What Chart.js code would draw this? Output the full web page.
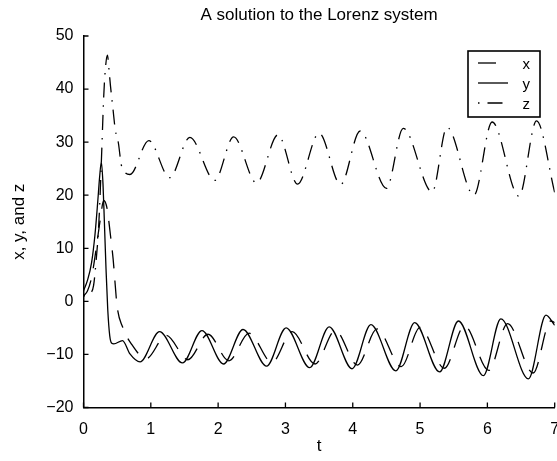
<!DOCTYPE html>
<html>
<head>
<meta charset="utf-8">
<script src="https://cdn.jsdelivr.net/npm/chart.js@4.4.1/dist/chart.umd.min.js"></script>
<style>
  html, body { margin: 0; padding: 0; background: #fff; }
  #wrap { width: 557px; height: 461px; }
</style>
</head>
<body>
<div id="wrap"><canvas id="lorenz" width="557" height="461"></canvas></div>
<script>
// values (turning points + the start transient)
const tX = [0, 0.06, 0.12, 0.16, 0.2, 0.25, 0.3, 0.35, 0.4, 0.44, 0.5, 0.58, 0.71, 0.93,
  1.23, 1.55, 1.85, 2.16, 2.46, 2.8, 3.1, 3.44, 3.74, 4.07, 4.36, 4.72, 5.0, 5.36, 5.66,
  6.02, 6.3, 6.68, 6.94, 7.0];
const xVals = [1.0, 2.0, 4.5, 7.5, 11, 15.5, 19, 17.5, 12.5, 8, -1, -4.8, -8, -10.8,
  -6.4, -11.0, -6.2, -11.2, -6.0, -11.5, -5.7, -11.8, -5.5, -12.0, -5.2, -12.3, -4.9, -12.6, -4.6,
  -13.0, -4.2, -13.5, -3.7, -4.0];

const tY = [0, 0.06, 0.12, 0.17, 0.21, 0.24, 0.265, 0.29, 0.31, 0.335, 0.36, 0.39, 0.42, 0.45,
  0.58, 0.69, 0.84, 1.13, 1.47, 1.76, 2.08, 2.37, 2.72, 3.01, 3.36, 3.65, 3.99, 4.27, 4.64,
  4.92, 5.29, 5.57, 5.94, 6.2, 6.61, 6.87, 7.0];
const yVals = [2.0, 4.0, 7.3, 12.5, 18.5, 23.5, 26.3, 22, 15, 6, -1.5, -6.5, -7.9, -8.0,
  -7.4, -9.9, -11.4, -5.7, -11.6, -5.5, -11.8, -5.3, -12.2, -5.0, -12.5, -4.8, -12.7, -4.4, -13.1,
  -4.0, -13.3, -3.7, -14.0, -3.3, -14.6, -2.6, -4.5];

const tZ = [0, 0.1, 0.15, 0.19, 0.22, 0.24, 0.27, 0.3, 0.32, 0.355, 0.38, 0.4, 0.44, 0.47,
  0.52, 0.56, 0.61, 0.69, 0.97, 1.28, 1.58, 1.95, 2.23, 2.57, 2.89, 3.18, 3.5, 3.82, 4.11,
  4.5, 4.75, 5.18, 5.4, 5.8, 6.07, 6.47, 6.73, 7.0];
const zVals = [1.0, 1.5, 3, 8, 13, 18, 28, 38.5, 43, 46.4, 43.5, 40.7, 36, 32.5,
  29.7, 25.8, 24.4, 23.9, 30.3, 23.3, 30.9, 22.8, 31.0, 22.3, 31.4, 22.1, 31.7, 22.0, 32.1,
  21.3, 32.6, 20.6, 32.8, 20.0, 33.8, 19.8, 34.0, 20.5];

const seriesNames = ['x', 'y', 'z'];

const toPoints = (ts, vs) => ts.map((t, i) => ({ x: t, y: vs[i] }));
const FONT = '"Liberation Sans", Arial, Helvetica, sans-serif';

// matlab style ticks pointing into the plot
const inwardTicks = {
  id: 'inwardTicks',
  afterDraw(chart) {
    const { ctx, chartArea, scales } = chart;
    ctx.save();
    ctx.strokeStyle = '#000';
    ctx.lineWidth = 1.3;
    ctx.beginPath();
    scales.x.ticks.forEach(tk => {
      const px = scales.x.getPixelForValue(tk.value);
      ctx.moveTo(px, chartArea.bottom);
      ctx.lineTo(px, chartArea.bottom - 5);
    });
    scales.y.ticks.forEach(tk => {
      const py = scales.y.getPixelForValue(tk.value);
      ctx.moveTo(chartArea.left, py);
      ctx.lineTo(chartArea.left + 5, py);
    });
    ctx.stroke();
    ctx.restore();
  }
};

// boxed legend in the top right corner
const boxLegend = {
  id: 'boxLegend',
  afterDraw(chart) {
    const { ctx } = chart;
    const left = 468, top = 51, w = 72, h = 66;
    ctx.save();
    ctx.fillStyle = '#fff';
    ctx.fillRect(left, top, w, h);
    ctx.strokeStyle = '#000';
    ctx.lineWidth = 1.6;
    ctx.strokeRect(left, top, w, h);
    ctx.font = '15px ' + FONT;
    ctx.textAlign = 'right';
    ctx.textBaseline = 'middle';
    ctx.fillStyle = '#000';
    chart.data.datasets.forEach((ds, i) => {
      const y = top + 12 + i * 20;
      ctx.setLineDash(ds.borderDash || []);
      ctx.lineWidth = ds.borderWidth;
      ctx.beginPath();
      ctx.moveTo(left + 10, y);
      ctx.lineTo(left + 40, y);
      ctx.stroke();
      ctx.setLineDash([]);
      ctx.fillText(ds.label, left + w - 10, y + 2);
    });
    ctx.restore();
  }
};

const lineStyle = {
  borderColor: '#000',
  borderWidth: 1.3,
  borderCapStyle: 'butt',
  pointRadius: 0,
  fill: false,
  cubicInterpolationMode: 'monotone'
};

new Chart(document.getElementById('lorenz'), {
  type: 'line',
  data: {
    datasets: [
      { ...lineStyle, label: seriesNames[0], data: toPoints(tX, xVals), borderDash: [18, 12] },
      { ...lineStyle, label: seriesNames[1], data: toPoints(tY, yVals), borderDash: [] },
      { ...lineStyle, label: seriesNames[2], data: toPoints(tZ, zVals), borderDash: [1.5, 8, 15, 8] }
    ]
  },
  options: {
    responsive: false,
    animation: false,
    layout: { padding: { left: 0, right: 2.3, top: 0, bottom: 0 } },
    plugins: {
      legend: { display: false },
      tooltip: { enabled: false },
      title: {
        display: true,
        fullSize: false,
        text: 'A solution to the Lorenz system',
        color: '#000',
        font: { family: FONT, size: 17, weight: 'normal' },
        padding: { top: 5, bottom: 10.6 }
      }
    },
    scales: {
      x: {
        type: 'linear',
        min: 0,
        max: 7,
        ticks: { stepSize: 1, color: '#000', font: { family: FONT, size: 16 }, padding: 12, maxRotation: 0 },
        grid: { display: false, drawTicks: false },
        border: { display: true, color: '#000', width: 1.5 },
        title: { display: true, text: 't', color: '#000', font: { family: FONT, size: 17 }, padding: { top: 4, bottom: 4 } },
        afterFit(scale) {
          scale.height = 53.5;
          scale.paddingLeft = 0;
          scale.paddingRight = 0;
        }
      },
      y: {
        min: -20,
        max: 50,
        ticks: {
          stepSize: 10,
          color: '#000',
          font: { family: FONT, size: 16 },
          padding: 10,
          callback: v => (v < 0 ? '\u2212' + Math.abs(v) : String(v))
        },
        grid: { display: false, drawTicks: false },
        border: { display: true, color: '#000', width: 1.5 },
        title: { display: true, text: 'x, y, and z', color: '#000', font: { family: FONT, size: 17 }, padding: { top: 9, bottom: 9 } },
        afterFit(scale) {
          scale.width = 83.5;
          scale.paddingTop = 0;
          scale.paddingBottom = 0;
        }
      }
    }
  },
  plugins: [inwardTicks, boxLegend]
});
</script>
</body>
</html>
